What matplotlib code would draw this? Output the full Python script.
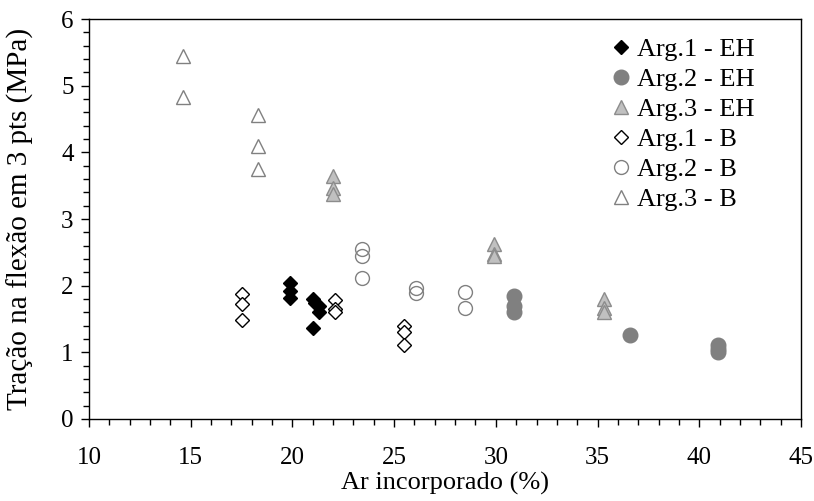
import numpy as np
import matplotlib
matplotlib.use('Agg')
import matplotlib.pyplot as plt
from matplotlib.ticker import MultipleLocator

plt.rcParams['font.family'] = ['Liberation Serif', 'DejaVu Serif']

# data (ar incorporado %, tracao MPa)
arg1_eh_x = [19.9, 19.9, 19.9, 21.0, 21.1, 21.3, 21.3, 21.0]
arg1_eh_y = [2.04, 1.92, 1.82, 1.80, 1.74, 1.69, 1.60, 1.37]
arg2_eh_x = [30.9, 30.9, 30.9, 36.6, 40.9, 40.9, 40.9]
arg2_eh_y = [1.84, 1.70, 1.61, 1.26, 1.11, 1.05, 1.00]
arg3_eh_x = [22.0, 22.0, 22.0, 29.9, 29.9, 29.9, 35.3, 35.3, 35.3]
arg3_eh_y = [3.64, 3.47, 3.38, 2.63, 2.48, 2.45, 1.80, 1.67, 1.60]
arg1_b_x = [17.5, 17.5, 17.5, 22.1, 22.1, 22.1, 25.5, 25.5, 25.5]
arg1_b_y = [1.87, 1.73, 1.48, 1.78, 1.65, 1.61, 1.40, 1.31, 1.11]
arg2_b_x = [23.4, 23.4, 23.4, 26.1, 26.1, 28.5, 28.5]
arg2_b_y = [2.55, 2.44, 2.11, 1.97, 1.89, 1.90, 1.66]
arg3_b_x = [14.6, 14.6, 18.3, 18.3, 18.3]
arg3_b_y = [5.45, 4.83, 4.56, 4.09, 3.75]

fig = plt.figure(figsize=(8.14, 5.01), dpi=100)
ax = fig.add_axes([0.1093, 0.1637, 0.8747, 0.7983])

ax.plot(arg1_eh_x, arg1_eh_y, ls='none', marker='D', ms=7.5, mfc='black', mec='black', label='Arg.1 - EH')
ax.plot(arg2_eh_x, arg2_eh_y, ls='none', marker='o', ms=10.5, mfc='#808080', mec='#808080', label='Arg.2 - EH')
ax.plot(arg3_eh_x, arg3_eh_y, ls='none', marker='^', ms=10, mfc='#c0c0c0', mec='#8c8c8c', mew=1.0, label='Arg.3 - EH')
ax.plot(arg1_b_x, arg1_b_y, ls='none', marker='D', ms=7, mfc='white', mec='black', mew=1.0, label='Arg.1 - B')
ax.plot(arg2_b_x, arg2_b_y, ls='none', marker='o', ms=10, mfc='none', mec='#808080', mew=1.0, label='Arg.2 - B')
ax.plot(arg3_b_x, arg3_b_y, ls='none', marker='^', ms=10, mfc='none', mec='#808080', mew=1.0, label='Arg.3 - B')

ax.set_xlim(10, 45)
ax.set_ylim(0, 6)
ax.xaxis.set_major_locator(MultipleLocator(5))
ax.xaxis.set_minor_locator(MultipleLocator(1))
ax.yaxis.set_major_locator(MultipleLocator(1))
ax.yaxis.set_minor_locator(MultipleLocator(0.2))
ax.tick_params(which='major', direction='out', length=6, width=1, labelsize=18, color='black')
ax.tick_params(which='minor', direction='out', length=4.5, width=1, color='black')
ax.tick_params(axis='x', which='major', pad=14.5)
ax.tick_params(axis='y', which='major', pad=5)
for s in ax.spines.values():
    s.set_linewidth(1.0)
    s.set_color('black')

ax.set_xlabel('Ar incorporado (%)', fontsize=19, labelpad=1.5)
ax.set_ylabel('Tração na flexão em 3 pts (MPa)', fontsize=21)
ax.yaxis.set_label_coords(-0.077, 0.5)

leg = ax.legend(loc='upper left', bbox_to_anchor=(0.719, 0.98), frameon=False,
                fontsize=19, handlelength=0.7, handletextpad=0.25, labelspacing=0.25,
                borderaxespad=0)

fig.savefig('out.png', dpi=100)
